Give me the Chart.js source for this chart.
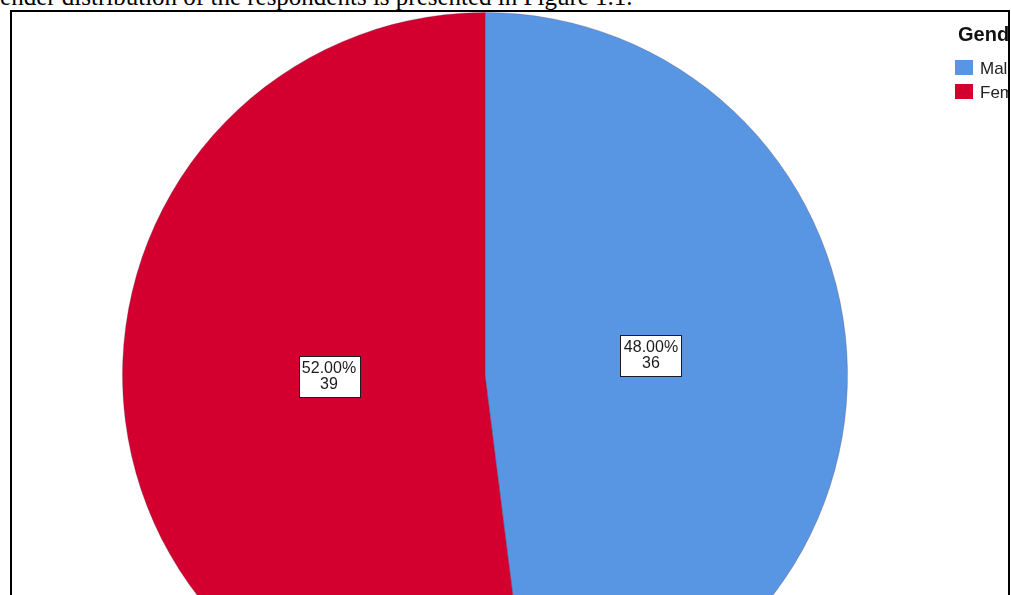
<!DOCTYPE html>
<html>
<head>
<meta charset="utf-8">
<script src="https://cdn.jsdelivr.net/npm/chart.js@4"></script>
<style>
  html, body { margin: 0; padding: 0; background: #fff; overflow: hidden; }
  body { width: 1011px; height: 595px; position: relative; }
  .caption {
    position: absolute; left: -18px; top: -17px; white-space: nowrap;
    font-family: "Liberation Serif", "Times New Roman", serif;
    font-size: 25px; line-height: 28px; color: #000;
  }
  .frame {
    position: absolute; left: 10px; top: 10px;
    width: 996px; height: 700px;
    border: 2px solid #000; overflow: hidden; background: #fff;
  }
  #genderChart { position: absolute; left: 0; top: 0; }
</style>
</head>
<body>
<div class="caption">Gender distribution of the respondents is presented in Figure 1.1.</div>
<div class="frame">
  <canvas id="genderChart" width="996" height="760"></canvas>
</div>
<script>
const legendTitle = "Gender";
const categories = ["Male", "Female"];
const counts = [36, 39];
const colors = ["#5896e3", "#d3002f"];

const total = counts.reduce((a, b) => a + b, 0);

// white boxes with percent + count inside each slice
const sliceLabels = {
  id: "sliceLabels",
  afterDatasetsDraw(chart) {
    const ctx = chart.ctx;
    const meta = chart.getDatasetMeta(0);
    ctx.save();
    ctx.font = "16px 'Liberation Sans', Arial, sans-serif";
    ctx.textAlign = "center";
    ctx.textBaseline = "middle";
    meta.data.forEach((arc, i) => {
      const mid = (arc.startAngle + arc.endAngle) / 2;
      const r = arc.outerRadius * 0.445;
      const x = arc.x + Math.cos(mid) * r + 5;
      const y = arc.y + Math.sin(mid) * r - 9;
      const line1 = (counts[i] / total * 100).toFixed(2) + "%";
      const line2 = String(counts[i]);
      const w = Math.ceil(ctx.measureText(line1).width) + 6;
      const h = 41;
      const bx = Math.round(x - w / 2) + 0.5;
      const by = Math.round(y - h / 2) + 0.5;
      ctx.fillStyle = "#fff";
      ctx.fillRect(bx, by, w, h);
      ctx.strokeStyle = "#1a1a2a";
      ctx.lineWidth = 1;
      ctx.strokeRect(bx, by, w, h);
      ctx.fillStyle = "#1c1c1c";
      ctx.fillText(line1, x, by + 12);
      ctx.fillText(line2, x, by + 28);
    });
    ctx.restore();
  }
};

// legend in the top right corner
const cornerLegend = {
  id: "cornerLegend",
  afterDraw(chart) {
    const ctx = chart.ctx;
    const left = 943;
    ctx.save();
    ctx.fillStyle = "#111";
    ctx.textBaseline = "alphabetic";
    ctx.textAlign = "left";
    ctx.font = "bold 20px 'Liberation Sans', Arial, sans-serif";
    ctx.fillText(legendTitle, left + 3, 29);
    ctx.font = "17px 'Liberation Sans', Arial, sans-serif";
    chart.data.labels.forEach((lab, i) => {
      const top = 48 + i * 24;
      ctx.fillStyle = chart.data.datasets[0].backgroundColor[i];
      ctx.fillRect(left, top, 18, 15);
      ctx.fillStyle = "#222";
      ctx.textBaseline = "middle";
      ctx.fillText(lab, left + 25, top + 9);
    });
    ctx.restore();
  }
};

new Chart(document.getElementById("genderChart"), {
  type: "pie",
  data: {
    labels: categories,
    datasets: [{
      data: counts,
      backgroundColor: colors,
      borderColor: "rgba(80,60,90,0.3)",
      borderWidth: 1
    }]
  },
  options: {
    responsive: false,
    animation: false,
    layout: { padding: { left: 110, top: 0, right: 160, bottom: 34 } },
    plugins: {
      legend: { display: false },
      tooltip: { enabled: false }
    }
  },
  plugins: [sliceLabels, cornerLegend]
});
</script>
</body>
</html>
